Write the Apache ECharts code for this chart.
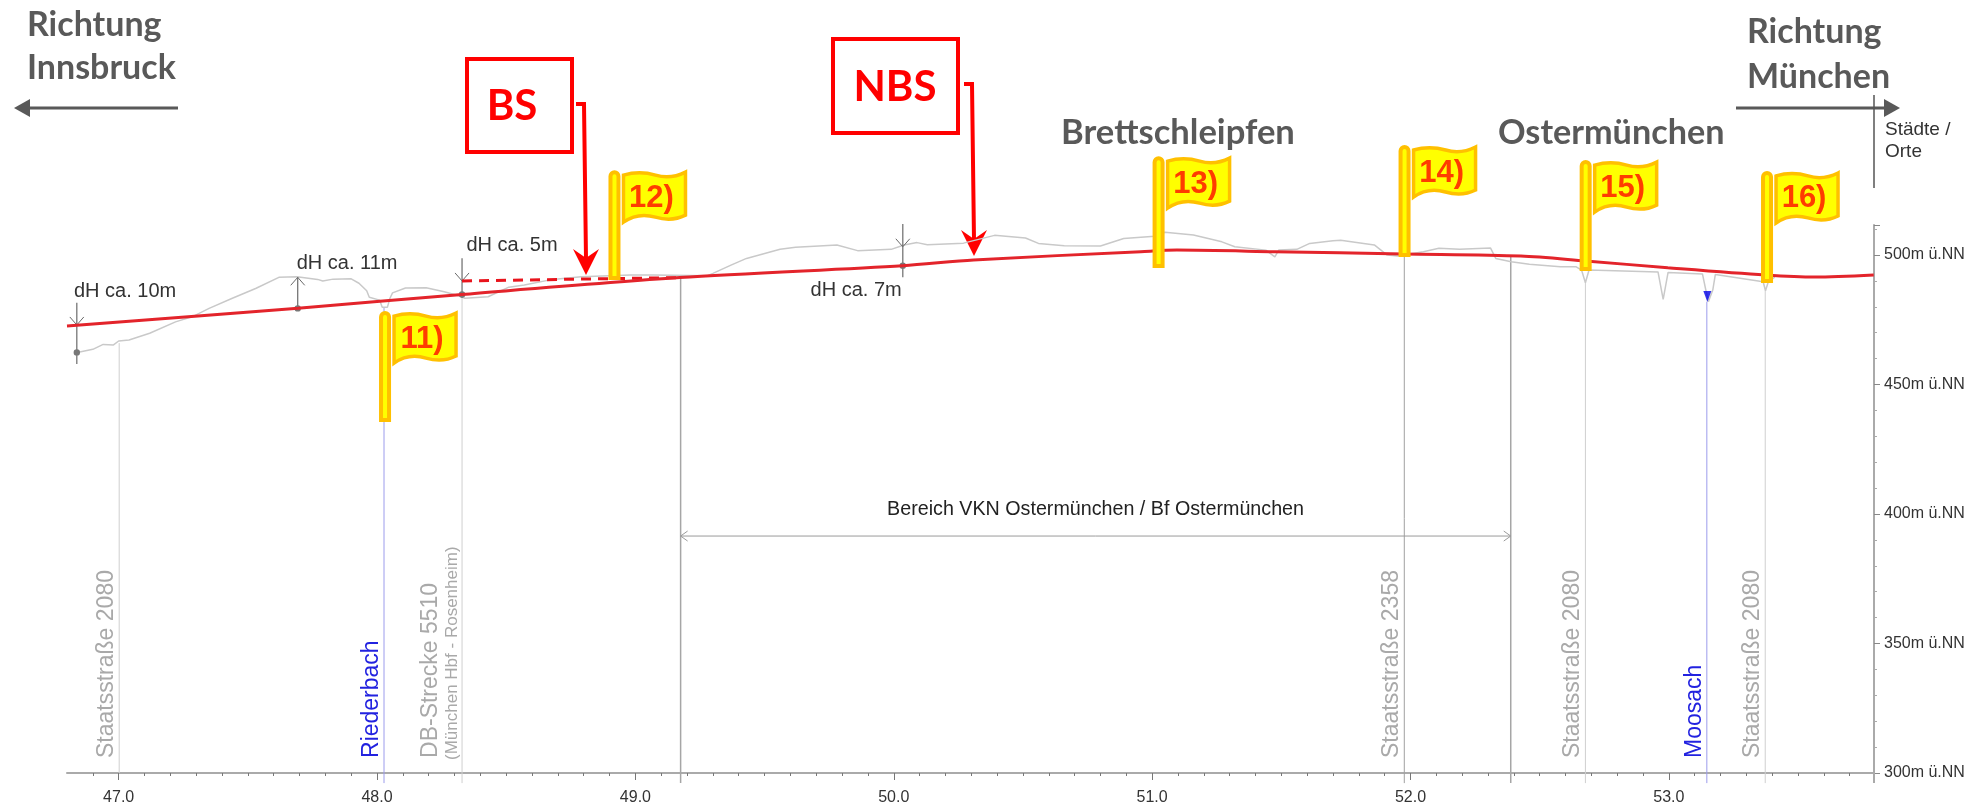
<!doctype html>
<html><head><meta charset="utf-8" />
<style>
  html,body,#app{margin:0;padding:0;width:1979px;height:807px;background:#ffffff}
</style>
<script src="https://cdn.jsdelivr.net/npm/echarts@6/dist/echarts.min.js"></script>
</head><body><div id="app"></div>
<script>
// track profile, km / m above sea level
const trackKm = [46.80,47.694,48.329,49.172,50.035,50.309,50.956,51.096,51.475,51.974,52.427,52.678,52.996,53.373,53.565,53.793];
const trackElev = [472.6,479.5,484.8,491.3,495.9,498.1,501.3,501.9,501.3,500.4,499.6,497.7,495.1,492.3,491.5,492.3];
// old line (BS), dashed
const bsKm = [48.329,49.172];
const bsElev = [490.0,491.3];
// terrain
const terrainKm = [46.84,46.90,46.94,46.98,47.00,47.04,47.12,47.22,47.29,47.35,47.44,47.53,47.62,47.69,47.77,47.79,47.83,47.90,47.93,47.96,47.97,48.01,48.02,48.04,48.05,48.06,48.11,48.19,48.26,48.32,48.34,48.43,48.51,48.57,48.68,48.79,48.98,49.07,49.28,49.30,49.37,49.43,49.56,49.62,49.71,49.78,49.86,49.99,50.04,50.09,50.13,50.27,50.39,50.51,50.56,50.66,50.80,50.89,51.01,51.05,51.16,51.27,51.32,51.44,51.475,51.49,51.56,51.61,51.70,51.73,51.86,51.91,51.95,52.05,52.11,52.19,52.31,52.33,52.39,52.46,52.58,52.64,52.662,52.677,52.691,52.958,52.978,52.997,53.13,53.143,53.153,53.17,53.18,53.365,53.374,53.385,53.41];
const terrainElev = [462.4,463.6,465.5,465.3,466.8,467.2,469.8,474.2,476.4,479.4,483.3,487.1,491.4,491.6,490.6,490.0,490.7,490.8,489.1,486.2,483.7,482.6,479.8,479.8,483.3,485.4,487.3,487.4,485.8,484.2,483.3,483.9,487.6,488.4,490.6,491.6,492.3,492.3,492.0,492.9,496.1,498.7,502.2,503.0,503.5,503.9,501.7,502.2,503.9,504.8,504.0,504.6,507.6,506.6,504.5,503.6,503.5,506.4,507.3,508.8,507.7,505.1,503.2,501.9,499.3,501.9,502.2,504.5,505.5,505.7,503.9,500.0,499.6,501.3,502.6,502.2,502.7,498.7,497.4,496.4,495.5,495.5,494.2,489.3,494.2,493.5,482.9,493.3,492.7,486.5,482.0,486.5,492.5,489.7,486.2,489.7,491.5];
// crossing structures
const featKm = [47.002,48.027,48.329,49.175,51.976,52.388,52.677,53.147,53.373];
const featTop = [466,479.8,484,491.3,500.4,499.6,489.3,482,486.2];
const featBottom = [300,296.1,296.1,296.1,296.1,296.1,296.1,296.1,296.1];
const featKinds = ['road','water','road','limit','dark','limit','road','water','road'];
const featNames = ['Staatsstraße 2080','Riederbach','DB-Strecke 5510','','Staatsstraße 2358','','Staatsstraße 2080','Moosach','Staatsstraße 2080'];
const featSubNames = ['','','(München Hbf - Rosenheim)','','','','','',''];
const featLabelElev = 305.8;
// water level mark at the Moosach
const waterKm = [53.149];
const waterElev = [484];
// height differences
const dhKm = [46.838,47.693,48.329,50.035];
const dhTop = [481.6,491.4,498.8,512];
const dhBottom = [457.9,479.4,483.4,491.4];
const dhTip = [473,491.4,490,503.2];
const dhDot = [462.4,479.4,484.8,495.9];
const dhDir = [1,-1,1,1];
const dhLabels = ['dH ca. 10m','dH ca. 11m','dH ca. 5m','dH ca. 7m'];
const dhLabelKm = [46.827,47.689,48.346,49.678];
const dhLabelElev = [485.8,496.9,503.5,486.2];
// VKN section
const vknKm = [49.175,52.388];
const vknElev = 391.5;
const vknLabel = 'Bereich VKN Ostermünchen / Bf Ostermünchen';
const vknLabelKm = 50.781;
const vknLabelElev = 401.9;
// flags
const flagLabels = ['11)','12)','13)','14)','15)','16)'];
const flagKm = [48.031,48.919,51.025,51.977,52.678,53.380];
const flagBase = [436.3,491.1,495.8,500.0,494.6,490.0];
const flagTop = [477.6,532.0,537.4,541.7,535.9,531.7];
// axes
const xMin = 46.8, xMax = 53.794;
const yMin = 300, yMax = 511.6;
const xLabels = [47,48,49,50,51,52,53];
const xMinorTicks = [46.9,47.1,47.2,47.3,47.4,47.5,47.6,47.7,47.8,47.9,48.1,48.2,48.3,48.4,48.5,48.6,48.7,48.8,48.9,49.1,49.2,49.3,49.4,49.5,49.6,49.7,49.8,49.9,50.1,50.2,50.3,50.4,50.5,50.6,50.7,50.8,50.9,51.1,51.2,51.3,51.4,51.5,51.6,51.7,51.8,51.9,52.1,52.2,52.3,52.4,52.5,52.6,52.7,52.8,52.9,53.1,53.2,53.3,53.4,53.5,53.6,53.7];
const axisRuleElev = [[296.1,300],[525.9,561.8]]; // stub under the axis, divider beside the header

const SANS = '"Liberation Sans", Arial, sans-serif';
const HEAD = 'Lato, "Open Sans", sans-serif';
const GREY = '#595959', RED = '#ff0000';
const kindColor = {road:'#cfcfcf', water:'#9c9cec', limit:'#a6a6a6', dark:'#a0a0a0'};
const kindLabel = {road:'#a9a9a9', water:'#2222e0', limit:'#a9a9a9', dark:'#a9a9a9'};
const BANNER = 'M0,3 C10,0 22,0 32,3 C42,6 52,5 62,0 L62,43 C52,48 42,48 32,45 C22,42 10,43 0,50 Z';

function toPairs(xs, ys){ return xs.map((x,i)=>[x,ys[i]]); }
function ln(x1,y1,x2,y2,color,w){ return {type:'line',shape:{x1,y1,x2,y2},style:{stroke:color,lineWidth:w}}; }

function renderFeature(params, api){
  const i = params.dataIndex, kind = featKinds[i];
  const top = api.coord([api.value(0), featTop[i]]);
  const bot = api.coord([api.value(0), featBottom[i]]);
  const lab = api.coord([api.value(0), featLabelElev]);
  const ch = [ln(top[0],top[1],bot[0],bot[1],kindColor[kind],kind==='limit'?1.5:1)];
  if (featNames[i]) {
    const shift = featSubNames[i] ? -19 : 0;
    ch.push({type:'text',x:lab[0]-1+shift,y:lab[1],rotation:Math.PI/2,
      style:{text:featNames[i],fill:kindLabel[kind],font:'23px '+SANS,align:'left',verticalAlign:'bottom'}});
  }
  if (featSubNames[i]) {
    ch.push({type:'text',x:lab[0]-1,y:lab[1]+2,rotation:Math.PI/2,
      style:{text:featSubNames[i],fill:kindLabel[kind],font:'17px '+SANS,align:'left',verticalAlign:'bottom'}});
  }
  return {type:'group',children:ch};
}

function renderDh(params, api){
  const i = params.dataIndex, km = api.value(0), dir = dhDir[i];
  const top = api.coord([km,dhTop[i]]), bot = api.coord([km,dhBottom[i]]);
  const tip = api.coord([km,dhTip[i]]), dot = api.coord([km,dhDot[i]]);
  const lab = api.coord([dhLabelKm[i],dhLabelElev[i]]);
  return {type:'group',children:[
    ln(top[0],top[1],bot[0],bot[1],'#6a6a6a',1.2),
    ln(tip[0]-7,tip[1]-dir*8,tip[0],tip[1],'#6a6a6a',1),
    ln(tip[0]+7,tip[1]-dir*8,tip[0],tip[1],'#6a6a6a',1),
    {type:'circle',shape:{cx:dot[0],cy:dot[1],r:3.2},style:{fill:'#777777'}},
    {type:'text',x:lab[0],y:lab[1],style:{text:dhLabels[i],fill:'#333333',font:'20px '+SANS,align:'left',verticalAlign:'middle'}}
  ]};
}

function renderVkn(params, api){
  const a = api.coord([vknKm[0],vknElev]), b = api.coord([vknKm[1],vknElev]);
  const lab = api.coord([vknLabelKm,vknLabelElev]);
  const c = '#9a9a9a';
  return {type:'group',children:[
    ln(a[0],a[1],b[0],b[1],c,1),
    ln(a[0]+7,a[1]-5,a[0],a[1],c,1), ln(a[0]+7,a[1]+5,a[0],a[1],c,1),
    ln(b[0]-7,b[1]-5,b[0],b[1],c,1), ln(b[0]-7,b[1]+5,b[0],b[1],c,1),
    {type:'text',x:lab[0],y:lab[1],style:{text:vknLabel,fill:'#222222',font:'19.7px '+SANS,align:'center',verticalAlign:'middle'}}
  ]};
}

function renderFlag(params, api){
  const i = params.dataIndex;
  const top = api.coord([api.value(0),flagTop[i]]);
  const bot = api.coord([api.value(0),flagBase[i]]);
  const stroke = '#ffc000';
  return {type:'group',children:[
    {type:'rect',shape:{x:top[0]-4,y:top[1],width:8,height:bot[1]-top[1],r:[4,4,0,0]},style:{fill:'#ffff00',stroke:stroke,lineWidth:4}},
    {type:'path',x:top[0]+9,y:top[1],shape:{pathData:BANNER},style:{fill:'#ffff00',stroke:stroke,lineWidth:3.5}},
    {type:'text',x:top[0]+37,y:top[1]+26,style:{text:flagLabels[i],fill:'#ff3c00',font:'bold 31px '+SANS,align:'center',verticalAlign:'middle'}}
  ]};
}

function renderRule(params, api){
  const a = api.coord([xMax,api.value(0)]), b = api.coord([xMax,api.value(1)]);
  return ln(a[0],a[1],b[0],b[1],params.dataIndex===0?'#aaaaaa':'#555555',params.dataIndex===0?2:1.5);
}

function headText(text,x,y,size,color){
  return {type:'text',x,y,style:{text,fill:color||GREY,font:'bold '+size+'px '+HEAD,align:'left',verticalAlign:'middle'}};
}
function arrow(x1,x2,y){
  const d = x2>x1?1:-1;
  return [
    {type:'line',shape:{x1,y1:y,x2:x2-d*14,y2:y},style:{stroke:GREY,lineWidth:3}},
    {type:'polygon',shape:{points:[[x2,y],[x2-d*16,y-9],[x2-d*16,y+9]]},style:{fill:GREY}}
  ];
}
function pointer(box,text,tx,ty,sx,bx,sy,tipX,tipY){
  return [
    {type:'rect',shape:box,style:{fill:'none',stroke:RED,lineWidth:4}},
    {type:'text',x:tx,y:ty,style:{text,fill:RED,font:'bold 42px '+HEAD,align:'center',verticalAlign:'middle'}},
    {type:'polyline',shape:{points:[[sx,sy],[bx,sy],[tipX,tipY-16]]},style:{stroke:RED,lineWidth:4,fill:'none'}},
    {type:'polygon',shape:{points:[[tipX,tipY],[tipX-13,tipY-26],[tipX,tipY-17],[tipX+13,tipY-26]]},style:{fill:RED}}
  ];
}

const chart = echarts.init(document.getElementById('app'));
chart.setOption({
  backgroundColor:'#ffffff',
  animation:false,
  textStyle:{fontFamily:SANS},
  grid:{left:67,right:105,top:225,bottom:34},
  xAxis:[
    {type:'value',min:xMin,max:xMax,splitLine:{show:false},
      axisLine:{onZero:false,lineStyle:{color:'#aaaaaa',width:2}},
      axisTick:{customValues:xLabels,length:7,lineStyle:{color:'#777777'}},
      axisLabel:{customValues:xLabels,color:'#333333',fontSize:16,margin:17,formatter:v=>Number(v).toFixed(1)}},
    {type:'value',min:xMin,max:xMax,position:'bottom',splitLine:{show:false},
      axisLine:{show:false},
      axisTick:{customValues:xMinorTicks,length:3,lineStyle:{color:'#777777'}},
      axisLabel:{show:false}}
  ],
  yAxis:{type:'value',min:yMin,max:yMax,interval:50,position:'right',splitLine:{show:false},
    axisLine:{show:true,onZero:false,lineStyle:{color:'#aaaaaa',width:2}},
    axisTick:{show:true,length:6,lineStyle:{color:'#888888'}},
    minorTick:{show:true,splitNumber:5,length:3,lineStyle:{color:'#aaaaaa'}},
    axisLabel:{color:'#333333',fontSize:16,margin:10,showMaxLabel:false,formatter:v=>v+'m ü.NN'}},
  series:[
    {type:'custom',renderItem:renderFeature,data:featKm.map(k=>[k]),encode:{x:0},clip:false,z:1,silent:true},
    {type:'line',data:toPairs(terrainKm,terrainElev),symbol:'none',lineStyle:{color:'#c9c9c9',width:1.5},z:2,silent:true},
    {type:'scatter',data:toPairs(waterKm,waterElev),symbol:'triangle',symbolRotate:180,symbolSize:[8,11],itemStyle:{color:'#0000e6'},z:3,silent:true},
    {type:'custom',renderItem:renderVkn,data:[[vknKm[0]]],encode:{x:0},clip:false,z:3,silent:true},
    {type:'custom',renderItem:renderDh,data:dhKm.map(k=>[k]),encode:{x:0},clip:false,z:3,silent:true},
    {type:'line',data:toPairs(bsKm,bsElev),symbol:'none',lineStyle:{color:'#e8141c',width:3,type:[10,7]},z:5,silent:true},
    {type:'line',data:toPairs(trackKm,trackElev),symbol:'none',smooth:0.3,lineStyle:{color:'#e3242b',width:3},z:6,silent:true},
    {type:'custom',renderItem:renderRule,data:axisRuleElev,encode:{y:[0,1]},clip:false,z:4,silent:true},
    {type:'custom',renderItem:renderFlag,data:flagKm.map(k=>[k]),encode:{x:0},clip:false,z:8,silent:true}
  ],
  graphic:{elements:[
    headText('Richtung',27,25,34),
    headText('Innsbruck',27,68,34),
    headText('Richtung',1747,32,34),
    headText('München',1747,77,34),
    headText('Brettschleipfen',1061,133,34.6),
    headText('Ostermünchen',1498,133,34.2),
    {type:'text',x:1885,y:130,style:{text:'Städte /',fill:'#333333',font:'19px '+SANS,align:'left',verticalAlign:'middle'}},
    {type:'text',x:1885,y:152,style:{text:'Orte',fill:'#333333',font:'19px '+SANS,align:'left',verticalAlign:'middle'}},
    ...arrow(178,14,108),
    ...arrow(1736,1900,108),
    ...pointer({x:467,y:59,width:105,height:93},'BS',512,106,576,584,104,586,275),
    ...pointer({x:833,y:39,width:125,height:94},'NBS',895,87,964,972,84,974,256)
  ]}
});
</script></body></html>
